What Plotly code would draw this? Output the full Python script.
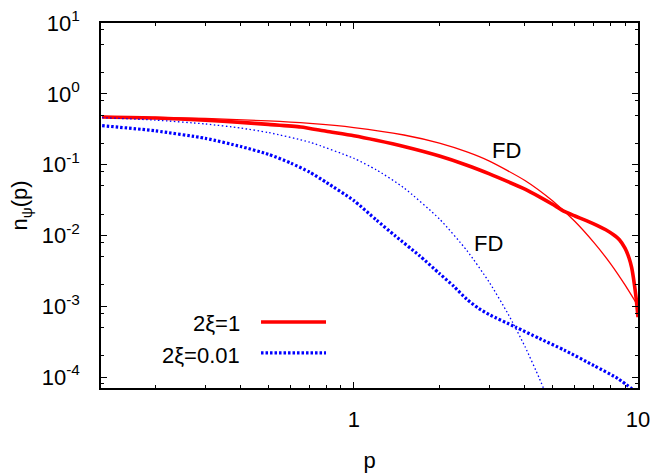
import plotly.graph_objects as go

# Momentum grid and occupation numbers for 2xi = 1
p_xi1 = [0.13, 0.2, 0.3, 0.4, 0.5, 0.65, 0.8, 1.0, 1.2, 1.5, 2.0, 2.5, 3.0, 3.5,
         4.0, 4.5, 5.0, 5.5, 6.0, 6.7, 7.2, 7.7, 8.2, 8.6, 9.0, 9.3, 9.5, 9.7,
         9.85, 10.0]
n_xi1 = [0.47, 0.455, 0.425, 0.395, 0.37, 0.34, 0.295, 0.255, 0.22, 0.18,
         0.132, 0.098, 0.074, 0.057, 0.045, 0.035, 0.0275, 0.0218, 0.0188,
         0.0157, 0.0138, 0.012, 0.0102, 0.0087, 0.0066, 0.0048, 0.0035,
         0.0021, 0.0013, 0.0007]

# Fermi-Dirac reference for 2xi = 1
p_fd1 = [0.13, 0.2, 0.3, 0.5, 0.7, 1.0, 1.5, 2.0, 2.5, 3.0, 4.0, 5.0, 6.0,
         7.0, 8.0, 9.0, 10.0]
n_fd1 = [0.478, 0.466, 0.448, 0.415, 0.382, 0.334, 0.262, 0.201, 0.151,
         0.112, 0.0596, 0.0308, 0.0157, 0.0079, 0.0040, 0.0020, 0.00101]

# Occupation numbers for 2xi = 0.01
p_xi001 = [0.13, 0.2, 0.3, 0.4, 0.5, 0.6, 0.7, 0.8, 1.0, 1.2, 1.4, 1.7, 2.0,
           2.25, 2.5, 2.75, 3.0, 3.7, 4.5, 5.5, 7.0, 8.5, 10.0]
n_xi001 = [0.355, 0.30, 0.235, 0.18, 0.14, 0.105, 0.078, 0.056, 0.031,
           0.0165, 0.0098, 0.0052, 0.0029, 0.0019, 0.00125, 0.00093,
           0.00076, 0.00051, 0.00035, 0.00024, 0.000145, 0.000095, 0.000058]

# Fermi-Dirac reference for 2xi = 0.01
p_fd001 = [0.13, 0.2, 0.3, 0.4, 0.5, 0.7, 1.0, 1.2, 1.5, 2.0, 2.5, 3.0, 3.5,
           4.0, 4.5, 4.8]
n_fd001 = [0.46, 0.425, 0.375, 0.328, 0.284, 0.207, 0.1225, 0.0843, 0.047,
           0.0171, 0.0061, 0.00216, 0.00076, 0.00027, 0.000095, 0.000051]

# Axis ticks
x_major = [1, 10]
x_major_text = ["1", "10"]
x_minor = [0.2, 0.3, 0.4, 0.5, 0.6, 0.7, 0.8, 0.9, 2, 3, 4, 5, 6, 7, 8, 9]
y_major = [1e-4, 1e-3, 1e-2, 1e-1, 1, 10]
y_major_text = ["10<sup>-4</sup>", "10<sup>-3</sup>", "10<sup>-2</sup>",
                "10<sup>-1</sup>", "10<sup>0</sup>", "10<sup>1</sup>"]
y_minor = [m * 10.0 ** k for k in range(-5, 1) for m in (2, 5, 8)]

legend_labels = ["2ξ=1", "2ξ=0.01"]

RED = "#ff0000"
BLUE = "#0000ff"
FONT = "Liberation Sans, Arial, Helvetica, sans-serif"
FS = 22

fig = go.Figure()
fig.add_trace(go.Scatter(x=p_xi1, y=n_xi1, mode="lines",
                         line=dict(color=RED, width=3.6, shape="spline", smoothing=0.6)))
fig.add_trace(go.Scatter(x=p_xi001, y=n_xi001, mode="lines",
                         line=dict(color=BLUE, width=3.2, dash="2.5px,2px",
                                   shape="spline", smoothing=0.6)))
fig.add_trace(go.Scatter(x=p_fd1, y=n_fd1, mode="lines",
                         line=dict(color=RED, width=1.3, shape="spline", smoothing=0.6)))
fig.add_trace(go.Scatter(x=p_fd001, y=n_fd001, mode="lines",
                         line=dict(color=BLUE, width=1.3, dash="1.5px,2.5px",
                                   shape="spline", smoothing=0.6)))

axis_common = dict(
    type="log", automargin=False,
    showline=True, linecolor="black", linewidth=1.5, mirror="ticks",
    ticks="inside", ticklen=6, tickwidth=1, tickcolor="black",
    showgrid=False, zeroline=False,
    tickfont=dict(family=FONT, size=FS, color="black"),
)

fig.update_xaxes(
    **axis_common,
    range=[-0.89, 1.0],
    tickmode="array", tickvals=x_major, ticktext=x_major_text,
    minor=dict(tickmode="array", tickvals=x_minor, ticks="inside",
               ticklen=3, tickcolor="black", showgrid=False),
    ticklabelstandoff=11,
    title=dict(text="p", font=dict(family=FONT, size=FS, color="black"), standoff=21),
)
fig.update_yaxes(
    **axis_common,
    range=[-4.155, 1.0],
    tickmode="array", tickvals=y_major, ticktext=y_major_text,
    minor=dict(tickmode="array", tickvals=y_minor, ticks="inside",
               ticklen=3, tickcolor="black", showgrid=False),
    ticklabelstandoff=15,
)

annotations = [
    # y-axis title, placed at a fixed spot left of the tick labels
    dict(text="n<sub>ψ</sub>(p)", x=-0.149, y=0.5, xref="paper", yref="paper",
         xanchor="center", yanchor="middle", textangle=-90, showarrow=False,
         font=dict(family=FONT, size=FS, color="black")),
    dict(text="FD", x=0.756, y=0.652, xref="paper", yref="paper",
         xanchor="center", yanchor="middle",
         showarrow=False, font=dict(family=FONT, size=FS, color="black")),
    dict(text="FD", x=0.721, y=0.397, xref="paper", yref="paper",
         xanchor="center", yanchor="middle",
         showarrow=False, font=dict(family=FONT, size=FS, color="black")),
    dict(text=legend_labels[0], x=0.2626, y=0.177, xref="paper", yref="paper",
         xanchor="right", yanchor="middle", showarrow=False,
         font=dict(family=FONT, size=FS, color="black")),
    dict(text=legend_labels[1], x=0.2626, y=0.0904, xref="paper", yref="paper",
         xanchor="right", yanchor="middle", showarrow=False,
         font=dict(family=FONT, size=FS, color="black")),
]

shapes = [
    dict(type="line", xref="paper", yref="paper", x0=0.298, x1=0.419,
         y0=0.181, y1=0.181, line=dict(color=RED, width=3.6)),
    dict(type="line", xref="paper", yref="paper", x0=0.298, x1=0.419,
         y0=0.096, y1=0.096, line=dict(color=BLUE, width=3.2, dash="2.5px,2px")),
]

fig.update_layout(
    width=657, height=474, autosize=False,
    margin=dict(l=101, r=19, t=23, b=86),
    paper_bgcolor="white", plot_bgcolor="white",
    showlegend=False,
    annotations=annotations, shapes=shapes,
    font=dict(family=FONT, size=FS, color="black"),
)

fig.write_html("out.html")
